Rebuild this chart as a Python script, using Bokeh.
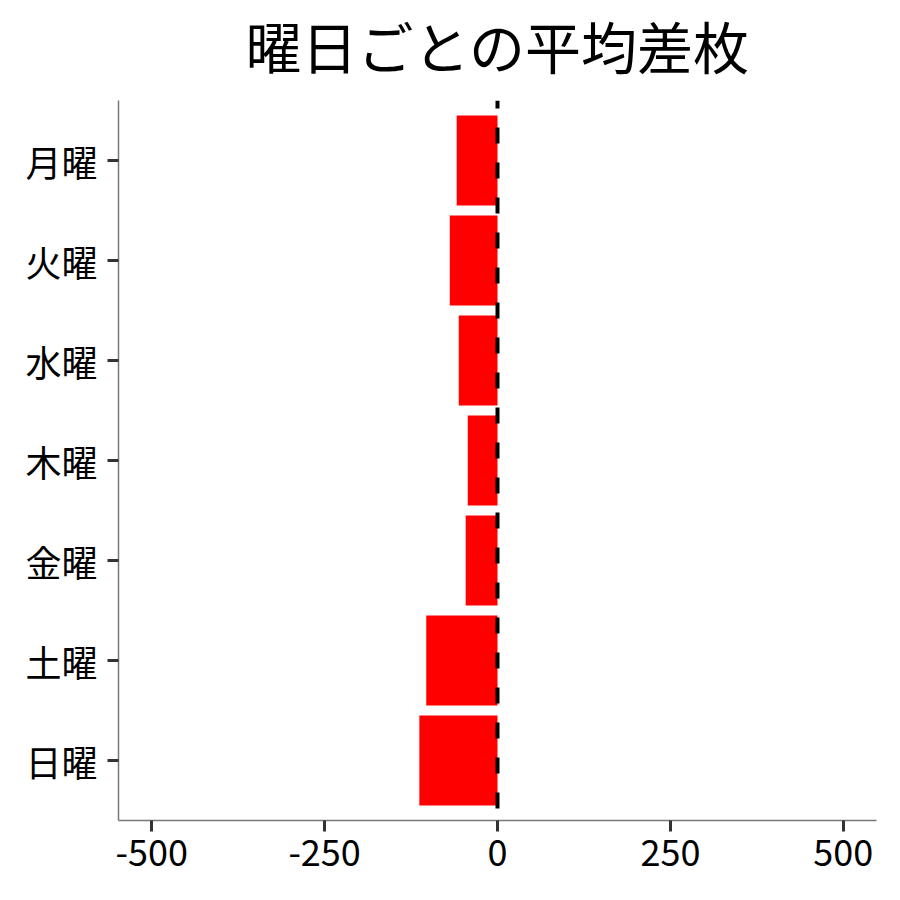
from bokeh.plotting import figure
from bokeh.models import FactorRange, Range1d, Span, FixedTicker
from bokeh.embed import file_html
from bokeh.resources import INLINE

days = ["月曜", "火曜", "水曜", "木曜", "金曜", "土曜", "日曜"]
avg_diff = [-59, -69, -56, -43, -46, -103, -113]
x_ticks = [-500, -250, 0, 250, 500]
x_tick_labels = ["-500", "-250", "0", "250", "500"]
title_text = "曜日ごとの平均差枚"

FONT = "Noto Sans CJK JP"

yr = FactorRange(factors=list(reversed(days)), range_padding=0.1,
                 range_padding_units="absolute")
p = figure(width=884, height=884, y_range=yr, x_range=Range1d(-548, 548),
           output_backend="svg", toolbar_location=None, title=title_text)
p.min_border_left = 118
p.min_border_right = 8
p.min_border_top = 100
p.min_border_bottom = 64

p.hbar(y=days, left=avg_diff, right=0, height=0.9, color="#FF0000", line_color=None)

p.add_layout(Span(location=0, dimension="height", line_color="black",
                  line_width=4, line_dash="16 19", line_dash_offset=8))

p.title.text_font = "DejaVu Sans, Noto Sans CJK JP"
p.title.text_font_size = "56px"
p.title.text_font_style = "normal"
p.title.align = "center"
p.title.vertical_align = "top"
p.title.text_color = "black"
p.title.standoff = 33

p.xgrid.visible = False
p.ygrid.visible = False
p.outline_line_color = None
p.background_fill_color = "white"
p.border_fill_color = "white"

for ax in (p.xaxis[0], p.yaxis[0]):
    ax.axis_line_color = "#777777"
    ax.axis_line_width = 1.5
    ax.major_tick_line_color = "#333333"
    ax.major_tick_line_width = 3
    ax.major_tick_out = 11
    ax.major_tick_in = 0
    ax.minor_tick_line_color = None
    ax.major_label_text_font = FONT
    ax.major_label_text_font_size = "36px"
    ax.major_label_text_color = "black"
    ax.major_label_standoff = 8

p.yaxis.major_label_standoff = 10
p.xaxis.ticker = FixedTicker(ticks=x_ticks)
p.xaxis.major_label_overrides = {t: l for t, l in zip(x_ticks, x_tick_labels)}

open("out.html", "w").write(file_html(p, INLINE))
